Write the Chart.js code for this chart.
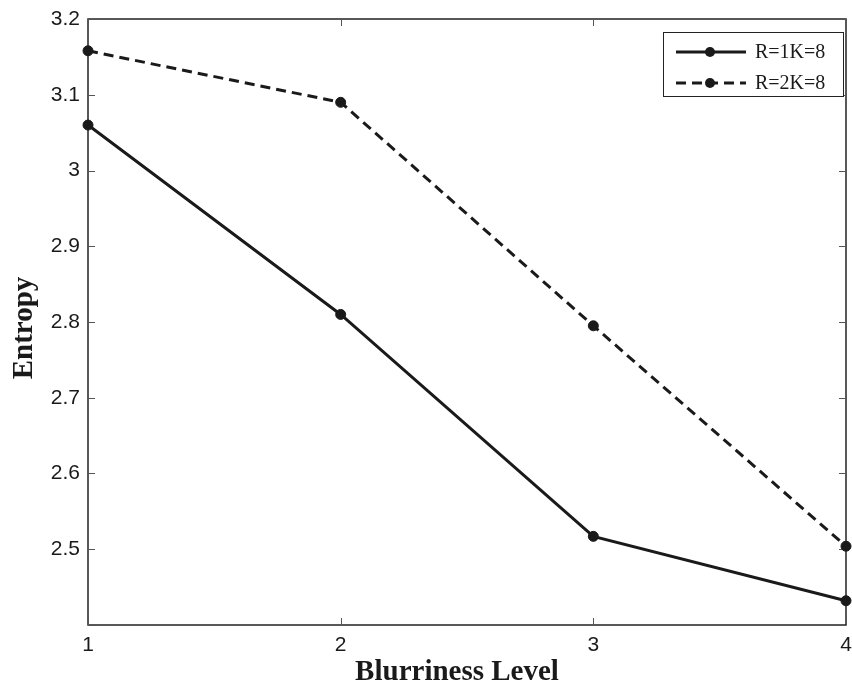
<!DOCTYPE html>
<html>
<head>
<meta charset="utf-8">
<script src="https://cdn.jsdelivr.net/npm/chart.js@4.4.1/dist/chart.umd.min.js"></script>
<style>
  html, body { margin: 0; padding: 0; background: #fff; }
  #wrap { position: relative; width: 852px; height: 691px; }
</style>
</head>
<body>
<div id="wrap"><canvas id="entropia"></canvas></div>
<script>
/* ====== dados do gráfico ====== */
const levels = [1, 2, 3, 4];
const entropyR1 = [3.06, 2.81, 2.517, 2.432];
const entropyR2 = [3.158, 3.09, 2.795, 2.504];
const seriesNames = ['R=1K=8', 'R=2K=8'];
const yMin = 2.4;
const yMax = 3.2;
const yStep = 0.1;

const INK = '#1a1a1a';

/* ====== moldura estilo MATLAB (caixa + ticks para dentro) ====== */
const frame = {
  id: 'frame',
  beforeDatasetsDraw(chart) {
    const { ctx, chartArea: a, scales } = chart;
    ctx.save();
    ctx.strokeStyle = '#222';
    ctx.lineWidth = 1.5;
    ctx.strokeRect(a.left, a.top, a.right - a.left, a.bottom - a.top);
    ctx.strokeStyle = '#555';
    ctx.lineWidth = 1;
    const seg = (x1, y1, x2, y2) => { ctx.beginPath(); ctx.moveTo(x1, y1); ctx.lineTo(x2, y2); ctx.stroke(); };
    scales.y.ticks.forEach(t => {
      const py = Math.round(scales.y.getPixelForValue(t.value)) + 0.5;
      seg(a.left, py, a.left + 7, py);
      seg(a.right - 7, py, a.right, py);
    });
    scales.x.ticks.forEach((t, i) => {
      const px = Math.round(scales.x.getPixelForTick(i)) + 0.5;
      seg(px, a.bottom, px, a.bottom - 7);
      seg(px, a.top, px, a.top + 7);
    });
    ctx.restore();
  }
};

/* ====== legenda com linha + marcador ====== */
const legendBox = {
  id: 'legendBox',
  afterDraw(chart) {
    const { ctx } = chart;
    const box = { left: 663, top: 32, right: 843, bottom: 96 };
    ctx.save();
    ctx.fillStyle = '#fff';
    ctx.fillRect(box.left, box.top, box.right - box.left, box.bottom - box.top);
    ctx.strokeStyle = '#222';
    ctx.lineWidth = 1;
    ctx.strokeRect(box.left + 0.5, box.top + 0.5, box.right - box.left, box.bottom - box.top);
    const rows = [52, 83];
    chart.data.datasets.forEach((ds, i) => {
      const y = rows[i];
      ctx.strokeStyle = ds.borderColor;
      ctx.lineWidth = ds.borderWidth;
      ctx.setLineDash(ds.borderDash || []);
      ctx.beginPath();
      ctx.moveTo(676, y);
      ctx.lineTo(746, y);
      ctx.stroke();
      ctx.setLineDash([]);
      ctx.fillStyle = ds.pointBackgroundColor;
      ctx.beginPath();
      ctx.arc(710, y, ds.pointRadius, 0, Math.PI * 2);
      ctx.fill();
      ctx.fillStyle = INK;
      ctx.font = '20px "Liberation Serif", "DejaVu Serif", serif';
      ctx.textAlign = 'left';
      ctx.textBaseline = 'middle';
      ctx.fillText(ds.label, 755, y + 1);
    });
    ctx.restore();
  }
};

/* ====== títulos dos eixos ====== */
const axisTitles = {
  id: 'axisTitles',
  afterDraw(chart) {
    const { ctx } = chart;
    ctx.save();
    ctx.fillStyle = INK;
    ctx.font = 'bold 29px "Liberation Serif", "DejaVu Serif", serif';
    ctx.textAlign = 'center';
    ctx.textBaseline = 'alphabetic';
    ctx.fillText('Blurriness Level', 457, 680);
    ctx.translate(32, 328);
    ctx.rotate(-Math.PI / 2);
    ctx.fillText('Entropy', 0, 0);
    ctx.restore();
  }
};

const ctx1 = document.getElementById('entropia');

new Chart(ctx1, {
  type: 'line',
  data: {
    labels: levels,
    datasets: [{
      label: seriesNames[0],
      data: entropyR1,
      borderColor: INK,
      backgroundColor: INK,
      borderWidth: 3,
      pointRadius: 5,
      pointBorderWidth: 1,
      pointBackgroundColor: INK,
      pointBorderColor: INK,
      tension: 0,
      clip: false
    }, {
      label: seriesNames[1],
      data: entropyR2,
      borderColor: INK,
      backgroundColor: INK,
      borderWidth: 3,
      borderDash: [10, 6],
      pointRadius: 5,
      pointBorderWidth: 1,
      pointBackgroundColor: INK,
      pointBorderColor: INK,
      tension: 0,
      clip: false
    }]
  },
  options: {
    responsive: true,
    maintainAspectRatio: false,
    animation: false,
    layout: { padding: { top: 19, right: 6, left: 0, bottom: 0 } },
    plugins: {
      legend: { display: false },
      tooltip: { enabled: false }
    },
    scales: {
      x: {
        type: 'category',
        offset: false,
        grid: { display: false, drawTicks: false },
        border: { display: false },
        ticks: {
          padding: 8,
          maxRotation: 0,
          color: INK,
          font: { family: '"Liberation Sans", Arial, sans-serif', size: 21 }
        },
        afterFit: s => { s.height = 66; s.paddingLeft = 0; s.paddingRight = 0; }
      },
      y: {
        min: yMin,
        max: yMax,
        grid: { display: false, drawTicks: false },
        border: { display: false },
        ticks: {
          stepSize: yStep,
          padding: 8,
          color: INK,
          font: { family: '"Liberation Sans", Arial, sans-serif', size: 21 },
          callback: v => (Math.abs(v - yMin) < 1e-6 ? '' : String(+Number(v).toFixed(1)))
        },
        afterFit: s => { s.width = 88; s.paddingTop = 0; s.paddingBottom = 0; }
      }
    }
  },
  plugins: [frame, legendBox, axisTitles]
});
/* FIM ====================================== */
</script>
</body>
</html>
